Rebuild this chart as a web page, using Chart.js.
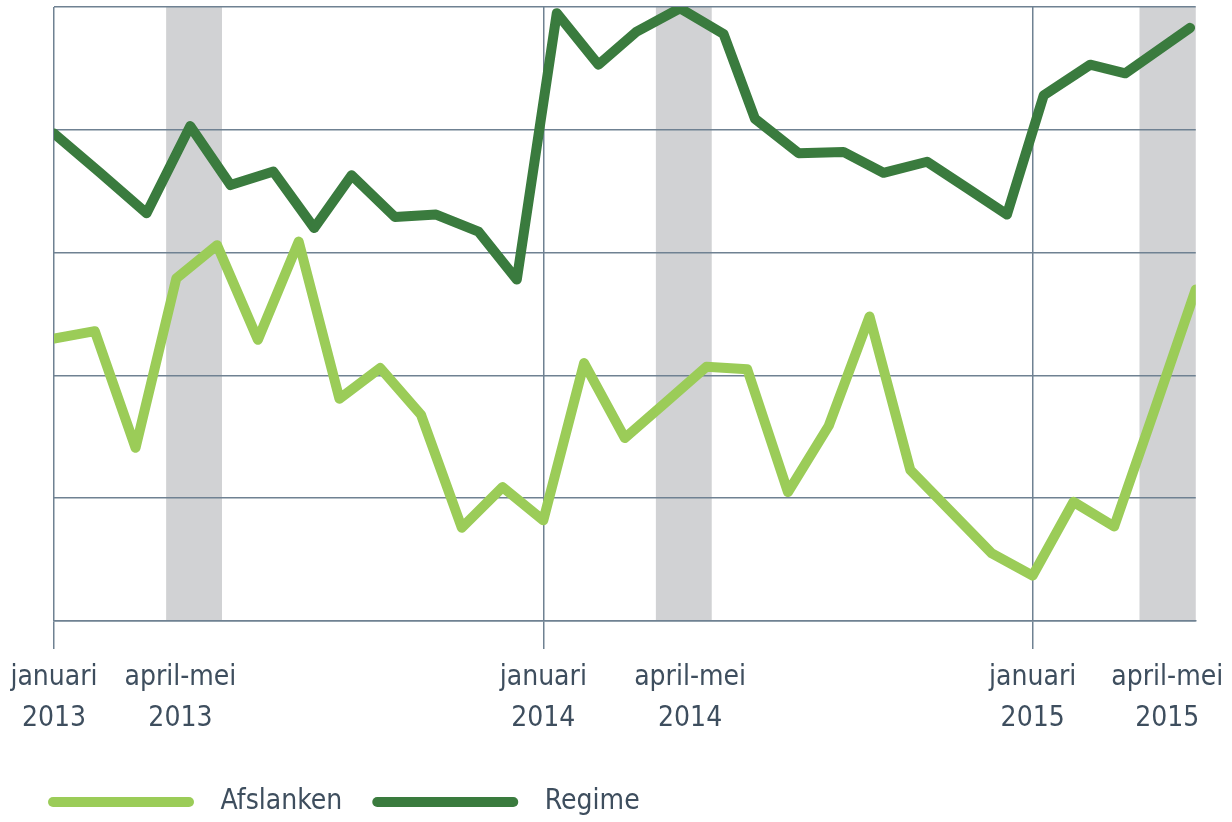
<!DOCTYPE html>
<html>
<head>
<script src="https://cdn.jsdelivr.net/npm/chart.js@4.4.0/dist/chart.umd.min.js"></script>
<style>
  body { margin: 0; background: #fff; }
  #wrap { width: 1232px; height: 822px; }
</style>
</head>
<body>
<div id="wrap"><canvas id="myChart"></canvas></div>

<script>
// months counted from januari 2013 (0) to mei 2015 (28)
var afslankenX = [0, 1, 2, 3, 4, 5, 6, 7, 8, 9, 10, 11, 12, 13, 14, 15, 16, 17, 18, 19, 20, 21, 22, 23, 24, 25, 26, 27, 28];
var afslanken = [2.30, 2.36, 1.41, 2.79, 3.06, 2.29, 3.09, 1.81, 2.06, 1.68, 0.76, 1.09, 0.82, 2.10, 1.49, 1.78, 2.07, 2.05, 1.05, 1.59, 2.48, 1.23, 0.89, 0.55, 0.37, 0.97, 0.77, 1.73, 2.70];

var regimeX = [0, 1.13, 2.27, 3.34, 4.33, 5.38, 6.38, 7.30, 8.36, 9.37, 10.41, 11.35, 12.33, 13.35, 14.29, 15.35, 16.42, 17.19, 18.26, 19.36, 20.34, 21.41, 22.37, 23.37, 24.27, 25.41, 26.27, 27.86];
var regime = [3.97, 3.65, 3.32, 4.03, 3.55, 3.66, 3.20, 3.63, 3.29, 3.31, 3.17, 2.78, 4.95, 4.53, 4.80, 4.99, 4.78, 4.09, 3.81, 3.82, 3.65, 3.74, 3.53, 3.31, 4.28, 4.53, 4.46, 4.83];

var tickPos = [0, 3.1, 12, 15.6, 24, 27.3];
var tickLabels = [["januari", "2013"], ["april-mei", "2013"], ["januari", "2014"], ["april-mei", "2014"], ["januari", "2015"], ["april-mei", "2015"]];

// april-mei periods (grey bands)
var bandStart = [2.75, 14.76, 26.62];
var bandEnd = [4.12, 16.13, 28];

var lightGreen = "#9bcc58";
var darkGreen = "#3a7b3e";
var gridColor = "#6f8192";
var textColor = "#3e4e5e";
var fontFam = "'Liberation Sans Narrow', 'DejaVu Sans Condensed', 'Roboto', sans-serif";

function pts(xs, ys) {
  return xs.map(function (x, i) { return {x: x, y: ys[i]}; });
}

var bandsPlugin = {
  id: "bands",
  beforeDraw: function (chart) {
    var ctx = chart.ctx, x = chart.scales.x, area = chart.chartArea;
    ctx.save();
    ctx.fillStyle = "#d1d2d4";
    for (var i = 0; i < bandStart.length; i++) {
      var x0 = x.getPixelForValue(bandStart[i]);
      var x1 = Math.min(x.getPixelForValue(bandEnd[i]), area.right);
      ctx.fillRect(x0, area.top, x1 - x0, area.bottom - area.top);
    }
    ctx.restore();
  }
};

var myChart = new Chart("myChart", {
  type: "line",
  data: {
    datasets: [{
      label: "Afslanken",
      data: pts(afslankenX, afslanken),
      borderColor: lightGreen,
      backgroundColor: lightGreen,
      borderWidth: 10,
      pointRadius: 0,
      borderJoinStyle: "round",
      borderCapStyle: "round",
      fill: false
    }, {
      label: "Regime",
      data: pts(regimeX, regime),
      borderColor: darkGreen,
      backgroundColor: darkGreen,
      borderWidth: 10,
      pointRadius: 0,
      borderJoinStyle: "round",
      borderCapStyle: "round",
      fill: false
    }]
  },
  options: {
    responsive: true,
    maintainAspectRatio: false,
    animation: false,
    layout: {padding: {left: 18, right: 33, top: 7, bottom: -4}},
    scales: {
      x: {
        type: "linear",
        min: 0,
        max: 28,
        afterBuildTicks: function (s) {
          s.ticks = tickPos.map(function (v) { return {value: v}; });
        },
        afterFit: function (s) { s.height = 137; },
        ticks: {
          autoSkip: false,
          maxRotation: 0,
          padding: 8,
          color: textColor,
          font: {family: fontFam, size: 28, lineHeight: 1.46},
          callback: function (v, i) { return tickLabels[i]; }
        },
        grid: {
          color: function (c) { return c.tick && c.tick.value % 12 === 0 ? gridColor : "rgba(0,0,0,0)"; },
          lineWidth: 1.5,
          tickLength: 28
        },
        border: {display: true, color: gridColor, width: 1.5}
      },
      y: {
        min: 0,
        max: 5,
        afterFit: function (s) { s.width = 36; },
        ticks: {display: false, stepSize: 1},
        grid: {color: gridColor, lineWidth: 1.5, drawTicks: false},
        border: {display: false}
      }
    },
    plugins: {
      tooltip: {enabled: false},
      legend: {
        position: "bottom",
        align: "start",
        labels: {
          boxWidth: 146,
          boxHeight: 10,
          useBorderRadius: true,
          borderRadius: 5,
          padding: 30,
          color: textColor,
          font: {family: fontFam, size: 28},
          generateLabels: function (chart) {
            return Chart.defaults.plugins.legend.labels.generateLabels(chart).map(function (l) {
              l.lineWidth = 0;
              l.strokeStyle = "rgba(0,0,0,0)";
              l.text = "\u2002" + l.text;
              return l;
            });
          }
        }
      }
    }
  },
  plugins: [bandsPlugin]
});
</script>
</body>
</html>
